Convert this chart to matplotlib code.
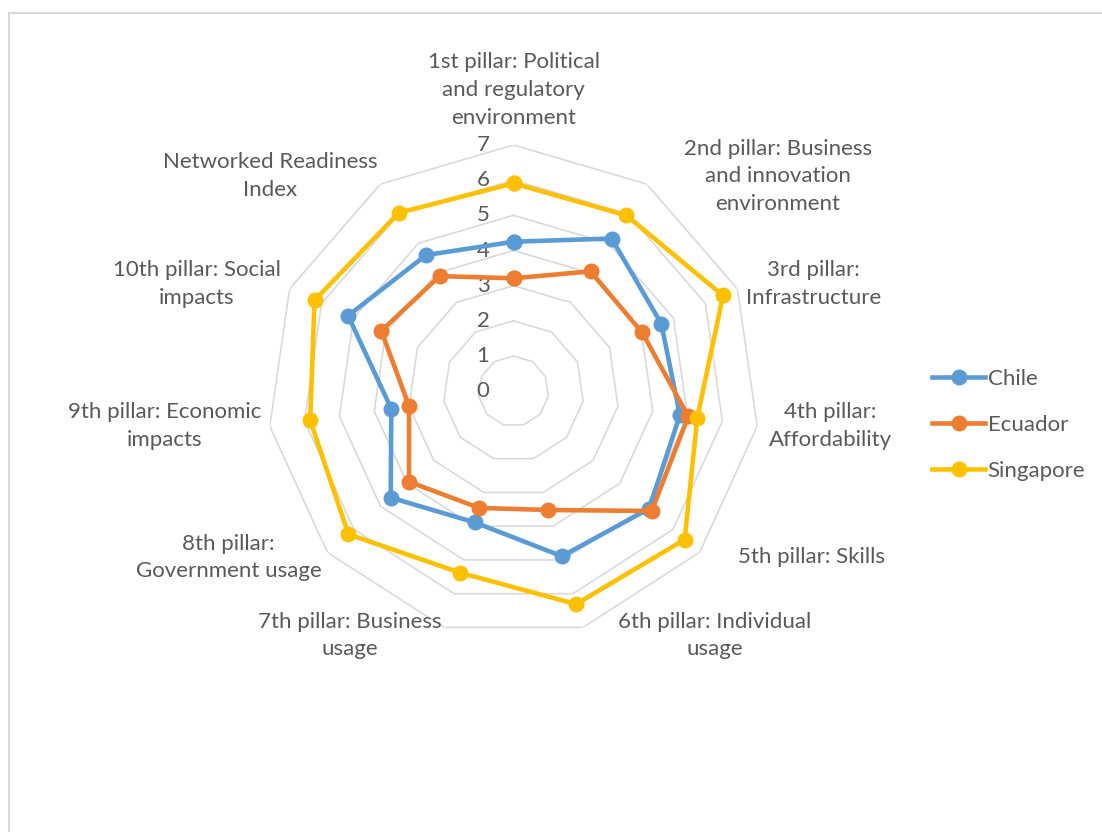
import numpy as np
import matplotlib
matplotlib.use("Agg")
import matplotlib.pyplot as plt
from matplotlib.lines import Line2D
from matplotlib.patches import Rectangle

# data
categories = [
    "1st pillar: Political\nand regulatory\nenvironment",
    "2nd pillar: Business\nand innovation\nenvironment",
    "3rd pillar:\nInfrastructure",
    "4th pillar:\nAffordability",
    "5th pillar: Skills",
    "6th pillar: Individual\nusage",
    "7th pillar: Business\nusage",
    "8th pillar:\nGovernment usage",
    "9th pillar: Economic\nimpacts",
    "10th pillar: Social\nimpacts",
    "Networked Readiness\nIndex",
]
chile = [4.25, 5.16, 4.62, 4.78, 5.10, 4.89, 3.89, 4.62, 3.51, 5.17, 4.60]
ecuador = [3.21, 4.05, 4.02, 5.02, 5.20, 3.52, 3.46, 3.93, 3.00, 4.13, 3.89]
singapore = [5.91, 5.94, 6.55, 5.28, 6.44, 6.31, 5.38, 6.21, 5.84, 6.22, 6.03]
series = ["Chile", "Ecuador", "Singapore"]
ticks = [0, 1, 2, 3, 4, 5, 6, 7]

colors = ["#5B9BD5", "#ED7D31", "#FFC000"]
grid_c = "#D9D9D9"
text_c = "#595959"

# label centre offsets (pixels, y down) from the outer ring vertex
label_off = [(0, -55), (131, -8), (76, -5), (73, 0), (112, 5), (132, 8),
             (-94, 8), (-99, 5), (-105, 0), (-93, -5), (-110, -8)]

plt.rcParams['font.family'] = ['Lato', 'DejaVu Sans']
fs = 16

W, H = 1102, 832
fig = plt.figure(figsize=(W / 100, H / 100), dpi=100)
fig.patches.append(Rectangle((9 / W, -0.1), 1.2, (H - 12.7) / H + 0.1,
                             transform=fig.transFigure, fill=False,
                             edgecolor=grid_c, linewidth=1.5))

cx, cy, R = 513.5, 832 - 391.2, 246.2
ax = fig.add_axes([(cx - R) / W, (cy - R) / H, 2 * R / W, 2 * R / H],
                  projection='polar')
ax.set_theta_offset(np.pi / 2)
ax.set_theta_direction(-1)
ax.set_ylim(0, 7)
ax.grid(False)
ax.set_xticks([])
ax.set_yticks([])
ax.spines['polar'].set_visible(False)
ax.patch.set_visible(False)

n = len(categories)
theta = np.arange(n) * 2 * np.pi / n
theta_c = np.append(theta, theta[0])

for r in ticks[1:]:
    ax.plot(theta_c, [r] * (n + 1), color=grid_c, lw=1.2, zorder=1)

for t in ticks:
    ax.annotate(str(t), xy=(0, t), xytext=(-24, 0), textcoords='offset pixels',
                ha='right', va='center', color=text_c, fontsize=fs)

for i, lab in enumerate(categories):
    dx, dy = label_off[i]
    ax.annotate(lab, xy=(theta[i], 7), xytext=(dx, -dy),
                textcoords='offset pixels', ha='center', va='center',
                multialignment='center', color=text_c, fontsize=fs,
                linespacing=1.47, annotation_clip=False)

for name, vals, c in zip(series, [chile, ecuador, singapore], colors):
    v = np.append(vals, vals[0])
    ax.plot(theta_c, v, color=c, lw=3.3, marker='o', markersize=10.5,
            label=name, zorder=3, clip_on=False)

handles = [Line2D([], [], color=c, lw=3.3, marker='o', markersize=10.5)
           for c in colors]
fig.legend(handles, series, loc='center left',
           bbox_to_anchor=(921 / W, 1 - 425 / H), frameon=False,
           labelcolor=text_c, fontsize=fs, handlelength=2.4,
           handletextpad=0.1, labelspacing=1.16, borderpad=0)

fig.savefig('out.png', dpi=100, facecolor='white')
